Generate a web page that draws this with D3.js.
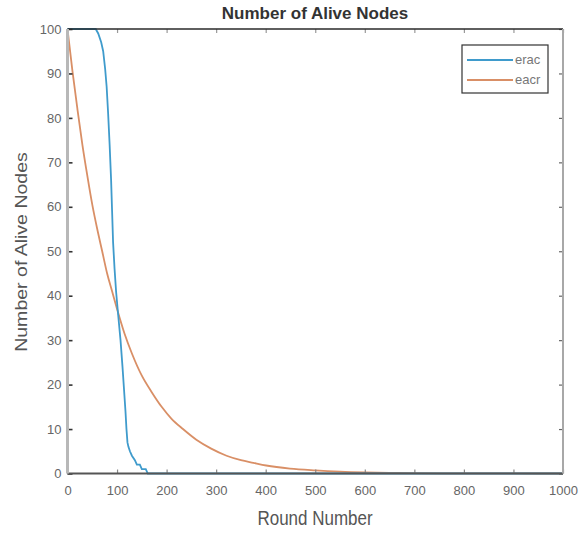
<!DOCTYPE html>
<html>
<head>
<meta charset="utf-8">
<script src="https://cdn.jsdelivr.net/npm/d3@7"></script>
<style>
  html, body { margin: 0; padding: 0; background: #fff; }
  svg { display: block; font-family: "Liberation Sans", Arial, sans-serif; }
</style>
</head>
<body>
<svg id="chart" width="585" height="533"></svg>
<script>
// ---- data ----
const chartTitle = "Number of Alive Nodes";
const xLabel = "Round Number";
const yLabel = "Number of Alive Nodes";
const seriesNames = ["erac", "eacr"];

const eracRounds = [0, 57, 62, 68, 72, 76, 79, 82, 85, 88, 90, 92, 95, 98, 102, 107, 111, 114, 117, 119, 121, 123, 126, 130, 136, 140, 146, 150, 158, 162, 1000];
const eracAlive  = [100, 100, 99, 97, 95, 91, 87, 81, 74, 66, 59, 52, 46, 41, 36, 30, 24, 19, 14, 10, 7, 6, 5, 4, 3, 2, 2, 1, 1, 0, 0];

const eacrRounds = [0, 10, 20, 30, 40, 50, 60, 70, 80, 90, 100, 115, 130, 150, 170, 190, 210, 233, 260, 290, 321, 350, 375, 401, 449, 500, 550, 600, 650, 700, 800, 900, 1000];
const eacrAlive  = [100, 90.5, 82, 74, 67, 60.5, 55, 50, 45, 41, 37, 31.5, 27, 22, 18.3, 15, 12.3, 10, 7.6, 5.6, 4, 3, 2.4, 1.8, 1.1, 0.7, 0.42, 0.25, 0.15, 0.09, 0.03, 0.01, 0];

const xTicks = [0, 100, 200, 300, 400, 500, 600, 700, 800, 900, 1000];
const yTicks = [0, 10, 20, 30, 40, 50, 60, 70, 80, 90, 100];

// ---- layout ----
const plotLeft = 67.5, plotRight = 563, plotTop = 29, plotBottom = 473.5;
const colors = ["#3f9bcc", "#d98f66"];

const svg = d3.select("#chart");
const x = d3.scaleLinear().domain([0, 1000]).range([plotLeft, plotRight]);
const y = d3.scaleLinear().domain([0, 100]).range([plotBottom, plotTop]);

// Lines
const eracData = eracRounds.map((r, i) => ({ r, v: eracAlive[i] }));
const eacrData = eacrRounds.map((r, i) => ({ r, v: eacrAlive[i] }));

const lineLin = d3.line().x(d => x(d.r)).y(d => y(d.v));
const lineSmooth = d3.line().x(d => x(d.r)).y(d => y(d.v)).curve(d3.curveMonotoneX);

svg.append("path").datum(eacrData)
  .attr("d", lineSmooth).attr("fill", "none")
  .attr("stroke", colors[1]).attr("stroke-width", 1.8);
svg.append("path").datum(eracData)
  .attr("d", lineLin).attr("fill", "none")
  .attr("stroke", colors[0]).attr("stroke-width", 1.8);

// Axes (ticks inward)
const fmt = d => String(d);
const gx = svg.append("g").attr("transform", `translate(0,${plotBottom})`)
  .call(d3.axisBottom(x).tickValues(xTicks).tickFormat(fmt).tickSizeInner(-4).tickSizeOuter(0).tickPadding(12));
const gxTop = svg.append("g").attr("transform", `translate(0,${plotTop})`)
  .call(d3.axisTop(x).tickValues(xTicks).tickSizeInner(-4).tickSizeOuter(0).tickFormat(""));
const gy = svg.append("g").attr("transform", `translate(${plotLeft},0)`)
  .call(d3.axisLeft(y).tickValues(yTicks).tickFormat(fmt).tickSizeInner(-5).tickSizeOuter(0).tickPadding(6));
const gyRight = svg.append("g").attr("transform", `translate(${plotRight},0)`)
  .call(d3.axisRight(y).tickValues(yTicks).tickSizeInner(-4).tickSizeOuter(0).tickFormat(""));

[gx, gxTop, gy, gyRight].forEach(g => g.select(".domain").remove());
gx.selectAll(".tick line").attr("stroke", "#888").attr("stroke-width", 1.2);
gxTop.selectAll(".tick line").attr("stroke", "#999").attr("stroke-width", 1.2);
gy.selectAll(".tick line").attr("stroke", "#333").attr("stroke-width", 1.6);
gyRight.selectAll(".tick line").attr("stroke", "#666").attr("stroke-width", 1.2);

gx.selectAll(".tick text").attr("fill", "#666").attr("font-size", 13);
gy.selectAll(".tick text").attr("fill", "#666").attr("font-size", 13);

// Box edges with the reference's look
svg.append("line").attr("x1", plotLeft).attr("x2", plotRight).attr("y1", plotTop).attr("y2", plotTop)
  .attr("stroke", "#2a2a2a").attr("stroke-width", 1.6);
svg.append("line").attr("x1", plotLeft).attr("x2", plotRight).attr("y1", plotBottom).attr("y2", plotBottom)
  .attr("stroke", "#555").attr("stroke-width", 1.8);
svg.append("line").attr("x1", plotLeft).attr("x2", plotLeft).attr("y1", plotTop).attr("y2", plotBottom)
  .attr("stroke", "#b8b8b8").attr("stroke-width", 3);
svg.append("line").attr("x1", plotRight).attr("x2", plotRight).attr("y1", plotTop).attr("y2", plotBottom)
  .attr("stroke", "#a8a8a8").attr("stroke-width", 2);

// Title
svg.append("text").attr("x", 315).attr("y", 19)
  .attr("text-anchor", "middle").attr("font-weight", "bold")
  .attr("font-size", 17).attr("fill", "#333").text(chartTitle);

// Axis labels
svg.append("text").attr("transform", "translate(315,525) scale(1,1.15)")
  .attr("text-anchor", "middle").attr("font-size", 17).attr("fill", "#555").text(xLabel);
svg.append("text").attr("transform", "translate(27,252) rotate(-90) scale(1.15,1)")
  .attr("text-anchor", "middle").attr("font-size", 17).attr("fill", "#555").text(yLabel);

// Legend
const lg = svg.append("g");
lg.append("rect").attr("x", 462).attr("y", 45).attr("width", 86).attr("height", 48)
  .attr("fill", "#fff").attr("stroke", "#333").attr("stroke-width", 1.2);
seriesNames.forEach((name, i) => {
  const ly = 60 + i * 20;
  lg.append("line").attr("x1", 467).attr("x2", 513).attr("y1", ly).attr("y2", ly)
    .attr("stroke", colors[i]).attr("stroke-width", 1.8);
  lg.append("text").attr("x", 515).attr("y", ly + 4).attr("font-size", 13)
    .attr("fill", "#777").text(name);
});
</script>
</body>
</html>
